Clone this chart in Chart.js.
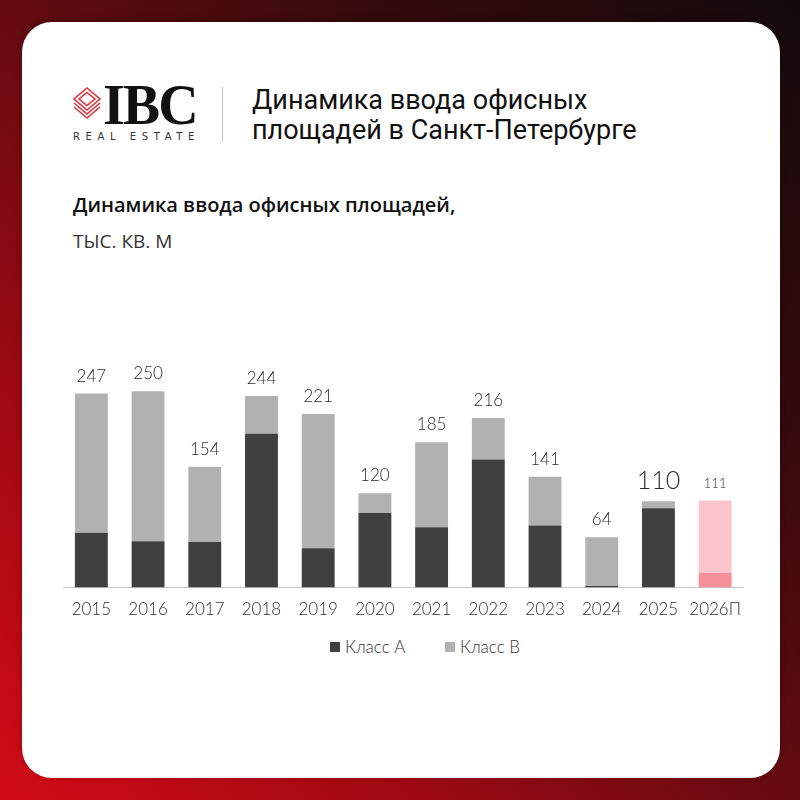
<!DOCTYPE html>
<html lang="ru">
<head>
<meta charset="utf-8">
<script src="https://cdn.jsdelivr.net/npm/chart.js@4.4.1/dist/chart.umd.min.js"></script>
<style>
  body {
    margin: 0;
    width: 800px;
    height: 800px;
    overflow: hidden;
    position: relative;
    background: linear-gradient(to top right, #d20b16 0%, #9c0a13 27%, #640b10 50%, #360a0c 72%, #140a0b 100%);
    font-family: 'Open Sans', sans-serif;
  }
  #card {
    position: absolute; left: 22px; top: 22px; width: 758px; height: 756px;
    background: #fff; border-radius: 30px;
    box-shadow: 0 -2px 6px rgba(0,0,0,0.25);
  }
  .abs { position: absolute; white-space: nowrap; }
  #ibc { left: 103px; top: 77px; font: bold 56px 'Liberation Serif', serif; line-height: 56px; letter-spacing: -2px; color: #111; }
  #realEstate { left: 73px; top: 131px; font: 10px 'DejaVu Sans', sans-serif; line-height: 12px; letter-spacing: 5.6px; color: #333; }
  #divider { left: 222px; top: 87px; width: 1px; height: 55px; background: #c4c4c4; }
  #title { left: 252px; top: 85px; font: 400 27px Roboto, sans-serif; line-height: 30px; color: #111; }
  #subtitle { left: 73px; top: 192px; font: 600 20px 'Open Sans', sans-serif; line-height: 26px; color: #111; }
  #units { left: 73px; top: 229px; font: 400 19px 'Open Sans', sans-serif; line-height: 24px; color: #333; text-transform: uppercase; }
  #chartBox { position: absolute; left: 0; top: 330px; width: 800px; height: 302px; }
  .legendItem { position: absolute; top: 637px; display: flex; align-items: center; font: 300 17px Lato, sans-serif; line-height: 20px; color: #333; }
  .legendItem span { display: inline-block; width: 10px; height: 10px; margin-right: 5px; }
</style>
</head>
<body>
<div id="card"></div>

<!-- logo -->
<svg class="abs" style="left:0;top:0" width="120" height="130">
  <g fill="none" stroke="#e0313d" stroke-width="1.6" stroke-linejoin="miter">
    <polygon points="87,88 100,99 87,110 74,99"/>
    <polygon points="87,92.5 95,99 87,105.5 79,99"/>
    <polyline points="74,103 87,114 100,103"/>
    <polyline points="74,107 87,118 100,107"/>
  </g>
</svg>
<div id="ibc" class="abs">IBC</div>
<div id="realEstate" class="abs">REAL ESTATE</div>
<div id="divider" class="abs"></div>
<div id="title" class="abs">Динамика ввода офисных<br>площадей в Санкт-Петербурге</div>

<div id="subtitle" class="abs">Динамика ввода офисных площадей,</div>
<div id="units" class="abs">тыс. кв. м</div>

<div id="chartBox"><canvas id="officeChart"></canvas></div>

<div class="legendItem" style="left:330px"><span id="boxA"></span>Класс А</div>
<div class="legendItem" style="left:445px"><span id="boxB"></span>Класс В</div>

<script>
// Chart data
const years = ['2015', '2016', '2017', '2018', '2019', '2020', '2021', '2022', '2023', '2024', '2025', '2026П'];
const classA = [70, 59, 58, 196, 50, 95, 77, 163, 79, 2, 101, 19];
const classB = [177, 191, 96, 48, 171, 25, 108, 53, 62, 62, 9, 92];
const totalFontSizes = [17, 17, 17, 17, 17, 17, 17, 17, 17, 17, 25, 13];

// Colours
const darkGrey = '#404040';
const lightGrey = '#b1b1b1';
const pinkDark = '#f4909a';
const pinkLight = '#fbc5cb';
const forecastIndex = years.length - 1; // last bar is the forecast

document.getElementById('boxA').style.background = darkGrey;
document.getElementById('boxB').style.background = lightGrey;

// Draw the total above every stacked bar
const totalsPlugin = {
    id: 'totals',
    afterDatasetsDraw(chart) {
        const { ctx, scales: { x, y } } = chart;
        ctx.save();
        ctx.fillStyle = '#2b2b2b';
        ctx.textAlign = 'center';
        ctx.textBaseline = 'alphabetic';
        years.forEach((yr, i) => {
            const total = classA[i] + classB[i];
            ctx.font = '300 ' + totalFontSizes[i] + 'px Lato';
            ctx.fillText(String(total), x.getPixelForValue(i), y.getPixelForValue(total) - 12);
        });
        ctx.restore();
    }
};

const ctxOffice = document.getElementById('officeChart').getContext('2d');
const officeChart = new Chart(ctxOffice, {
    type: 'bar',
    data: {
        labels: years,
        datasets: [{
            label: 'Класс А',
            data: classA,
            backgroundColor: c => c.dataIndex === forecastIndex ? pinkDark : darkGrey
        }, {
            label: 'Класс В',
            data: classB,
            backgroundColor: c => c.dataIndex === forecastIndex ? pinkLight : lightGrey
        }]
    },
    options: {
        responsive: true,
        maintainAspectRatio: false,
        animation: false,
        categoryPercentage: 1,
        barPercentage: 0.58,
        layout: { padding: { left: 63, right: 56.5, top: 22, bottom: 0 } },
        plugins: {
            legend: { display: false },
            tooltip: { enabled: false }
        },
        scales: {
            x: {
                stacked: true,
                grid: { drawOnChartArea: false, drawTicks: false },
                border: { color: '#c8c8c8', width: 1 },
                ticks: {
                    color: '#2e2e2e', padding: 12, autoSkip: false, maxRotation: 0, minRotation: 0,
                    font: { family: 'Lato', weight: '300', size: 17 }
                }
            },
            y: {
                stacked: true,
                display: false,
                min: 0,
                max: 300
            }
        }
    },
    plugins: [totalsPlugin]
});
</script>
</body>
</html>
